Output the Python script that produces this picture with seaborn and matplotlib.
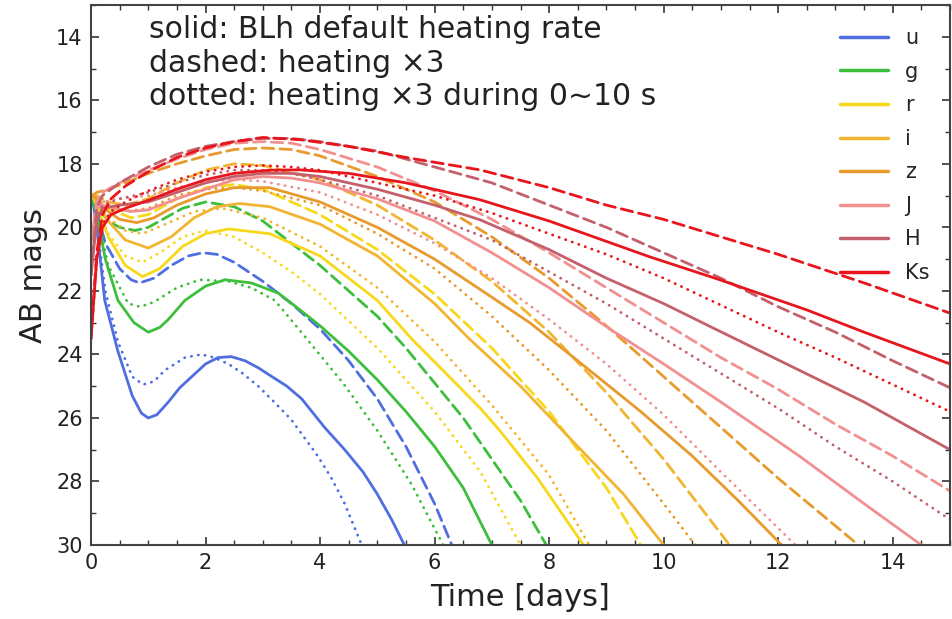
import numpy as np
import pandas as pd
import matplotlib
matplotlib.use("Agg")
import matplotlib.pyplot as plt
from matplotlib.lines import Line2D
from matplotlib.ticker import MultipleLocator
import seaborn as sns

# ---------------- data ----------------
bands = ["u", "g", "r", "i", "z", "J", "H", "Ks"]
band_colors = ["#4f6fe0", "#3cbf3c", "#f7d81a", "#f2b531", "#e89a2c",
               "#f29090", "#c4606c", "#e8151d"]
variants = ["solid", "dashed", "dotted"]

# u band
u_solid_t = [0.02, 0.1, 0.24, 0.47, 0.72, 0.88, 1.0, 1.15, 1.35, 1.55, 1.76, 2.0, 2.22, 2.45, 2.69, 2.92, 3.16, 3.42, 3.68, 4.08, 4.43, 4.75, 5.0, 5.25, 5.5]
u_solid_m = [19.0, 20.0, 22.3, 23.9, 25.3, 25.85, 26.0, 25.9, 25.5, 25.05, 24.7, 24.3, 24.1, 24.07, 24.2, 24.42, 24.7, 25.0, 25.4, 26.3, 27.0, 27.7, 28.4, 29.2, 30.1]
u_dotted_t = [0.02, 0.1, 0.25, 0.47, 0.72, 0.91, 1.1, 1.29, 1.64, 1.93, 2.15, 2.4, 2.65, 2.92, 3.2, 3.5, 3.96, 4.2, 4.43, 4.75]
u_dotted_m = [19.0, 19.9, 22.0, 23.6, 24.7, 24.95, 24.85, 24.5, 24.1, 24.0, 24.1, 24.3, 24.6, 25.0, 25.5, 26.06, 27.2, 27.9, 28.7, 30.1]
u_dashed_t = [0.02, 0.1, 0.25, 0.5, 0.7, 0.85, 1.1, 1.4, 1.7, 1.95, 2.2, 2.5, 3.0, 3.5, 4.0, 4.5, 5.0, 5.5, 6.0, 6.3]
u_dashed_m = [19.0, 19.5, 20.5, 21.3, 21.65, 21.75, 21.6, 21.2, 20.9, 20.8, 20.85, 21.1, 21.7, 22.4, 23.2, 24.2, 25.4, 26.9, 28.7, 30.0]

# g band
g_solid_t = [0.02, 0.1, 0.25, 0.47, 0.75, 1.0, 1.2, 1.35, 1.64, 2.0, 2.34, 2.8, 3.27, 3.65, 4.0, 4.5, 5.0, 5.5, 6.0, 6.5, 7.0]
g_solid_m = [19.0, 19.6, 21.0, 22.3, 23.0, 23.3, 23.15, 22.9, 22.3, 21.85, 21.65, 21.75, 22.07, 22.6, 23.1, 23.9, 24.8, 25.8, 26.9, 28.2, 30.0]
g_dotted_t = [0.02, 0.1, 0.3, 0.65, 0.86, 1.1, 1.5, 1.9, 2.4, 2.8, 3.21, 3.65, 4.4, 5.0, 5.6, 6.15]
g_dotted_m = [19.0, 19.5, 21.2, 22.4, 22.5, 22.35, 21.9, 21.65, 21.7, 21.9, 22.3, 23.25, 24.9, 26.4, 28.1, 30.0]
g_dashed_t = [0.02, 0.1, 0.3, 0.5, 0.77, 1.0, 1.3, 1.6, 2.0, 2.5, 3.0, 3.5, 4.0, 4.5, 5.0, 5.5, 6.0, 6.5, 7.0, 7.5, 7.95]
g_dashed_m = [19.0, 19.3, 19.8, 20.0, 20.1, 20.0, 19.7, 19.4, 19.2, 19.35, 19.8, 20.5, 21.2, 22.0, 22.8, 23.8, 24.9, 26.0, 27.3, 28.6, 30.0]

# r band
r_solid_t = [0.02, 0.1, 0.3, 0.6, 0.9, 1.2, 1.6, 2.0, 2.4, 3.12, 4.0, 5.0, 5.62, 6.2, 6.8, 7.14, 7.8, 8.6]
r_solid_m = [19.0, 19.3, 20.3, 21.2, 21.55, 21.3, 20.6, 20.2, 20.05, 20.2, 20.9, 22.3, 23.55, 24.6, 25.7, 26.4, 27.9, 30.0]
r_dotted_t = [0.02, 0.1, 0.3, 0.6, 0.9, 1.2, 1.6, 2.0, 2.5, 3.0, 3.5, 4.0, 5.0, 6.0, 6.8, 7.5]
r_dotted_m = [19.0, 19.3, 20.2, 20.9, 21.1, 20.8, 20.3, 20.1, 20.3, 20.8, 21.4, 22.1, 23.8, 25.8, 27.7, 30.0]
r_dashed_t = [0.02, 0.1, 0.3, 0.7, 1.0, 1.5, 2.0, 2.5, 3.0, 4.0, 5.0, 6.0, 7.0, 8.0, 9.0, 9.6]
r_dashed_m = [19.0, 19.1, 19.4, 19.7, 19.6, 19.1, 18.75, 18.65, 18.8, 19.6, 20.7, 22.1, 23.8, 25.8, 28.2, 30.0]

# i band
i_solid_t = [0.02, 0.1, 0.3, 0.6, 1.0, 1.4, 1.8, 2.2, 2.6, 3.12, 4.0, 5.0, 6.0, 6.6, 7.5, 8.5, 9.3, 10.0]
i_solid_m = [19.0, 19.2, 19.8, 20.4, 20.65, 20.3, 19.7, 19.35, 19.25, 19.35, 19.9, 20.9, 22.4, 23.5, 25.0, 26.9, 28.4, 30.0]
i_dotted_t = [0.02, 0.1, 0.3, 0.6, 0.9, 1.3, 1.8, 2.3, 3.0, 4.0, 5.0, 6.0, 7.0, 8.0, 8.7]
i_dotted_m = [19.0, 19.2, 19.7, 20.1, 20.2, 19.9, 19.5, 19.4, 19.7, 20.6, 21.9, 23.6, 25.6, 27.8, 30.0]
i_dashed_t = [0.02, 0.1, 0.3, 0.6, 1.0, 1.5, 2.0, 2.5, 3.0, 4.0, 5.0, 6.0, 7.0, 8.0, 9.0, 10.0, 11.15]
i_dashed_m = [19.0, 19.0, 19.2, 19.3, 19.1, 18.6, 18.2, 18.0, 18.05, 18.5, 19.3, 20.4, 21.7, 23.3, 25.2, 27.3, 30.0]

# z band
z_solid_t = [0.02, 0.1, 0.3, 0.5, 0.8, 1.1, 1.5, 2.0, 2.5, 3.12, 4.0, 5.0, 6.0, 7.0, 7.66, 8.5, 9.6, 10.5, 11.3, 12.06]
z_solid_m = [19.0, 19.1, 19.5, 19.75, 19.85, 19.7, 19.3, 18.95, 18.75, 18.75, 19.2, 20.0, 21.0, 22.2, 23.0, 24.2, 25.8, 27.2, 28.6, 30.0]
z_dotted_t = [0.02, 0.1, 0.3, 0.6, 1.0, 1.5, 2.0, 2.5, 3.0, 4.0, 5.0, 6.0, 7.0, 8.0, 9.0, 10.0, 10.55]
z_dotted_m = [19.0, 19.0, 19.3, 19.5, 19.4, 19.0, 18.8, 18.75, 18.85, 19.3, 20.2, 21.3, 22.8, 24.5, 26.4, 28.7, 30.0]
z_dashed_t = [0.02, 0.1, 0.3, 0.6, 1.0, 1.5, 2.0, 2.5, 3.0, 3.5, 4.0, 5.0, 6.0, 7.0, 8.0, 9.0, 10.0, 11.0, 12.0, 13.4]
z_dashed_m = [19.0, 18.9, 18.8, 18.6, 18.3, 18.0, 17.75, 17.55, 17.5, 17.55, 17.75, 18.4, 19.2, 20.3, 21.6, 23.1, 24.7, 26.3, 27.9, 30.0]

# J band
J_solid_t = [0.0, 0.1, 0.2, 0.4, 0.7, 1.0, 1.5, 2.0, 2.5, 3.0, 3.5, 4.0, 5.0, 6.0, 7.0, 8.0, 9.06, 10.0, 11.0, 12.37, 13.5, 14.5]
J_solid_m = [20.5, 19.4, 19.3, 19.4, 19.5, 19.45, 19.1, 18.8, 18.5, 18.4, 18.45, 18.6, 19.1, 19.8, 20.8, 21.9, 23.2, 24.3, 25.5, 27.2, 28.7, 30.0]
J_dotted_t = [0.0, 0.1, 0.2, 0.5, 1.0, 1.5, 2.0, 2.5, 3.0, 4.0, 5.0, 6.0, 7.0, 8.0, 9.0, 10.0, 11.0, 12.3]
J_dotted_m = [20.5, 19.4, 19.2, 19.1, 19.0, 18.75, 18.55, 18.5, 18.55, 18.9, 19.6, 20.5, 21.6, 22.9, 24.3, 25.9, 27.7, 30.0]
J_dashed_t = [0.0, 0.1, 0.2, 0.5, 1.0, 1.5, 2.0, 2.5, 3.0, 3.5, 4.0, 5.0, 6.0, 7.0, 8.0, 9.0, 10.0, 11.0, 12.0, 13.0, 14.0, 15.0]
J_dashed_m = [20.5, 19.2, 18.9, 18.6, 18.2, 17.85, 17.55, 17.35, 17.3, 17.35, 17.55, 18.1, 18.85, 19.75, 20.8, 21.9, 23.0, 24.1, 25.1, 26.2, 27.2, 28.3]

# H band
H_solid_t = [0.0, 0.1, 0.2, 0.5, 1.0, 1.5, 2.0, 2.5, 3.0, 3.5, 4.0, 5.0, 6.0, 6.79, 8.0, 9.0, 10.0, 10.9, 12.37, 13.5, 15.0]
H_solid_m = [21.5, 19.8, 19.4, 19.3, 19.2, 18.9, 18.6, 18.4, 18.3, 18.3, 18.4, 18.8, 19.3, 19.76, 20.7, 21.6, 22.4, 23.2, 24.5, 25.5, 27.0]
H_dotted_t = [0.0, 0.1, 0.2, 0.5, 1.0, 1.5, 2.0, 2.5, 3.0, 3.5, 4.0, 5.0, 6.0, 7.0, 8.0, 9.0, 10.0, 11.0, 12.0, 13.0, 14.0, 15.0]
H_dotted_m = [21.5, 19.7, 19.3, 19.1, 18.9, 18.6, 18.35, 18.2, 18.2, 18.3, 18.5, 19.0, 19.7, 20.4, 21.4, 22.4, 23.5, 24.6, 25.7, 26.9, 28.0, 29.2]
H_dashed_t = [0.0, 0.1, 0.2, 0.5, 1.0, 1.5, 2.0, 2.5, 3.0, 3.5, 4.0, 5.0, 6.0, 7.0, 8.0, 9.0, 10.0, 11.0, 12.0, 13.0, 14.0, 15.0]
H_dashed_m = [21.5, 19.4, 19.0, 18.6, 18.1, 17.7, 17.45, 17.3, 17.2, 17.2, 17.3, 17.6, 18.1, 18.6, 19.3, 20.0, 20.8, 21.6, 22.5, 23.3, 24.2, 25.05]

# Ks band
Ks_solid_t = [0.0, 0.1, 0.2, 0.35, 0.6, 1.0, 1.5, 2.0, 2.5, 3.12, 3.65, 4.5, 5.5, 6.79, 8.0, 9.76, 10.98, 12.5, 13.5, 15.0]
Ks_solid_m = [23.5, 21.0, 20.0, 19.6, 19.4, 19.15, 18.8, 18.5, 18.3, 18.2, 18.19, 18.3, 18.6, 19.13, 19.8, 20.93, 21.65, 22.6, 23.3, 24.3]
Ks_dotted_t = [0.0, 0.1, 0.2, 0.35, 0.6, 1.0, 1.5, 2.0, 2.5, 3.0, 3.5, 4.0, 5.0, 6.0, 7.0, 8.0, 9.0, 10.0, 11.0, 12.0, 13.0, 14.0, 15.0]
Ks_dotted_m = [23.5, 21.0, 19.9, 19.5, 19.2, 18.85, 18.5, 18.25, 18.1, 18.05, 18.1, 18.2, 18.6, 19.0, 19.55, 20.2, 20.85, 21.6, 22.45, 23.3, 24.1, 24.95, 25.8]
Ks_dashed_t = [0.0, 0.1, 0.2, 0.35, 0.6, 1.0, 1.5, 2.0, 2.5, 3.0, 3.65, 4.5, 5.5, 6.79, 8.0, 9.0, 10.0, 11.0, 12.0, 13.5, 15.0]
Ks_dashed_m = [23.5, 20.8, 19.6, 19.1, 18.7, 18.25, 17.8, 17.5, 17.3, 17.17, 17.24, 17.45, 17.8, 18.19, 18.75, 19.3, 19.75, 20.3, 20.85, 21.75, 22.7]

text_lines = ["solid: BLh default heating rate",
              "dashed: heating \u00d73",
              "dotted: heating \u00d73 during 0~10 s"]
x_label = "Time [days]"
y_label = "AB mags"

# ---------------- build a long-form table ----------------
g = globals()
frames = []
for b in bands:
    for v in variants:
        t = g[f"{b}_{v}_t"]
        m = g[f"{b}_{v}_m"]
        frames.append(pd.DataFrame({"time": t, "mag": m, "band": b, "variant": v}))
df = pd.concat(frames, ignore_index=True)

# ---------------- plotting ----------------
sns.set_style("ticks")
plt.rcParams["font.family"] = ["DejaVu Sans"]

fig = plt.figure(figsize=(9.52, 6.19), dpi=100)
ax = fig.add_axes([91 / 952, 1 - 545 / 619, 859 / 952, 540 / 619])

palette = dict(zip(bands, band_colors))
dash_map = {"solid": "", "dashed": (4.2, 2.2), "dotted": (0.1, 2.4)}

sns.lineplot(data=df, x="time", y="mag", hue="band", style="variant",
             hue_order=bands, style_order=variants, palette=palette,
             dashes=dash_map, estimator=None, sort=False, lw=2.0,
             legend=False, ax=ax)
for ln in ax.lines:
    ln.set_solid_joinstyle("round")
    ln.set_dash_joinstyle("round")
    ln.set_dash_capstyle("round")

ax.set_xlim(0, 15)
ax.set_ylim(30, 13)
ax.xaxis.set_major_locator(MultipleLocator(2))
ax.xaxis.set_minor_locator(MultipleLocator(0.5))
ax.yaxis.set_major_locator(MultipleLocator(2))
ax.yaxis.set_minor_locator(MultipleLocator(1))
ax.tick_params(which="both", direction="in", top=True, right=True,
               colors="#333333", labelcolor="#222222")
ax.tick_params(which="major", length=6, width=1.2, labelsize=15, pad=6)
ax.tick_params(which="minor", length=3.5, width=1.0)
for s in ax.spines.values():
    s.set_linewidth(1.5)
    s.set_color("#444444")

ax.set_xlabel(x_label, fontsize=22, color="#222222", labelpad=7)
ax.set_ylabel(y_label, fontsize=22, color="#222222", labelpad=6)

ax.text(0.068, 0.982, "\n".join(text_lines), transform=ax.transAxes,
        ha="left", va="top", fontsize=21.5, color="#222222", linespacing=1.21)

handles = [Line2D([], [], color=c, lw=2.5) for c in band_colors]
ax.legend(handles, bands, loc="upper right", frameon=False, fontsize=15,
          handlelength=2.3, handletextpad=0.8, labelspacing=0.65,
          borderaxespad=0.3, bbox_to_anchor=(0.993, 0.984))

fig.savefig("out.png", dpi=100)
